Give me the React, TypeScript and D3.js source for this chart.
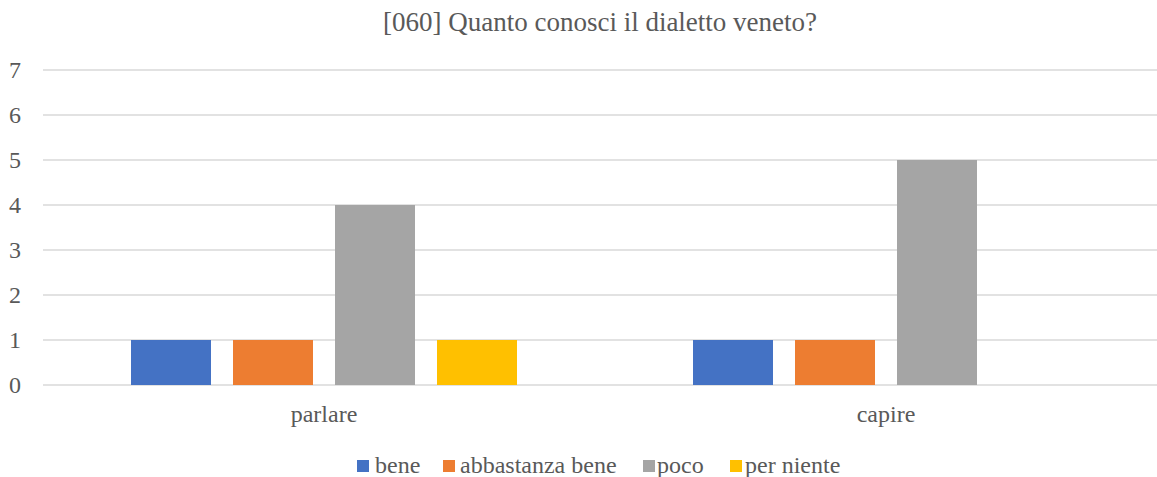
import React from "react";
import * as d3 from "d3";

const categories = ["parlare", "capire"];
const seriesNames = ["bene", "abbastanza bene", "poco", "per niente"];
const seriesColors = ["#4472C4", "#ED7D31", "#A5A5A5", "#FFC000"];
const beneValues = [1, 1];
const abbastanzaValues = [1, 1];
const pocoValues = [4, 5];
const perNienteValues = [1, 0];
const yTicks = [0, 1, 2, 3, 4, 5, 6, 7];
const title = "[060] Quanto conosci il dialetto veneto?";

const W = 1157;
const H = 477;
const font = '"Liberation Serif", "Times New Roman", Tinos, "DejaVu Serif", serif';

export default function App() {
  const seriesValues = [beneValues, abbastanzaValues, pocoValues, perNienteValues];
  const x0 = d3.scaleBand<string>().domain(categories).range([43, 1167]).paddingInner(0).paddingOuter(0);
  const bw = x0.bandwidth();
  const x1 = d3
    .scaleBand<string>()
    .domain(seriesNames)
    .range([88, 88 + 386])
    .paddingInner(22 / 102)
    .paddingOuter(0);
  const y = d3.scaleLinear().domain([0, 7]).range([385, 70]);

  const legendSq = [357, 443, 643, 730];
  const legendTx = [375, 460, 657, 745];
  const textStyle = { fontFamily: font };

  return (
    <svg
      width={W}
      height={H}
      style={{ position: "absolute", left: 0, top: 0, display: "block", background: "#fff", fontFamily: font }}
    >
      <rect x={0} y={0} width={W} height={H} fill="#fff" />
      <text x={600} y={31} textAnchor="middle" style={textStyle} fontSize={27} fill="#595959">
        {title}
      </text>
      {yTicks.map((t) => (
        <g key={t}>
          <line x1={43} x2={1167} y1={y(t)} y2={y(t)} stroke="#D9D9D9" strokeWidth={1.3} />
          <text x={15} y={y(t) + 8} textAnchor="middle" style={textStyle} fontSize={24} fill="#595959">
            {t}
          </text>
        </g>
      ))}
      {categories.map((c, ci) => (
        <g key={c} transform={`translate(${x0(c)},0)`}>
          {seriesNames.map((s, si) => {
            const v = seriesValues[si][ci];
            if (!v) return null;
            return (
              <rect
                key={s}
                x={x1(s)}
                y={y(v)}
                width={x1.bandwidth()}
                height={y(0) - y(v)}
                fill={seriesColors[si]}
              />
            );
          })}
          <text x={bw / 2} y={422} textAnchor="middle" style={textStyle} fontSize={24} fill="#595959">
            {c}
          </text>
        </g>
      ))}
      {seriesNames.map((s, si) => (
        <g key={s}>
          <rect x={legendSq[si]} y={460} width={12} height={12} fill={seriesColors[si]} />
          <text x={legendTx[si]} y={473} style={textStyle} fontSize={24} fill="#595959">
            {s}
          </text>
        </g>
      ))}
    </svg>
  );
}
